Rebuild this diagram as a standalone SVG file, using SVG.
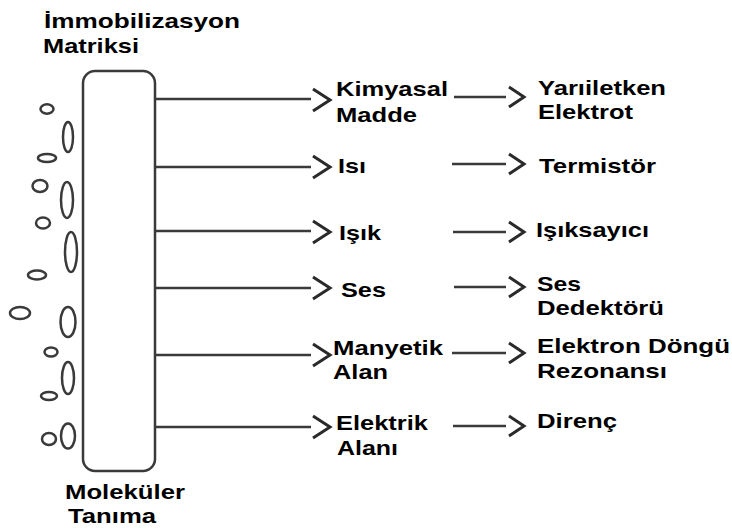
<svg xmlns="http://www.w3.org/2000/svg" width="732" height="529" viewBox="0 0 732 529">
<style>
text{font-family:"Liberation Sans",Arial,sans-serif;font-weight:bold;font-size:21px;fill:#000}
.ln{stroke:#3a3a3a;stroke-width:2.5;fill:none}
.ch{stroke:#2a2a2a;stroke-width:3;fill:none;stroke-linejoin:miter}
.el{stroke:#3a3a3a;stroke-width:2.5;fill:none}
</style>
<rect x="0" y="0" width="732" height="529" fill="#fff"/>
<g id="matrix">
<rect x="83" y="71" width="72" height="400" rx="12" class="el"/>
<text x="44" y="28" textLength="196" lengthAdjust="spacingAndGlyphs">İmmobilizasyon</text>
<text x="43" y="53" textLength="96" lengthAdjust="spacingAndGlyphs">Matriksi</text>
<text x="65" y="499" textLength="120" lengthAdjust="spacingAndGlyphs">Moleküler</text>
<text x="68" y="523" textLength="88" lengthAdjust="spacingAndGlyphs">Tanıma</text>
</g>
<g id="molecules">
<ellipse cx="47" cy="109" rx="6.5" ry="4.7" class="el"/>
<ellipse cx="68" cy="137" rx="5" ry="15" class="el"/>
<ellipse cx="47" cy="158" rx="9" ry="4" class="el"/>
<ellipse cx="40" cy="186" rx="7.5" ry="6" class="el"/>
<ellipse cx="67" cy="200" rx="6" ry="18" class="el"/>
<ellipse cx="43" cy="223" rx="7" ry="5.5" class="el"/>
<ellipse cx="71" cy="252" rx="6" ry="20" class="el"/>
<ellipse cx="37" cy="275" rx="9" ry="4.5" class="el"/>
<ellipse cx="20" cy="313" rx="10" ry="6" class="el"/>
<ellipse cx="68" cy="322" rx="7.5" ry="15" class="el"/>
<ellipse cx="51" cy="352" rx="6.5" ry="4.5" class="el"/>
<ellipse cx="68" cy="378" rx="6" ry="16" class="el"/>
<ellipse cx="49" cy="396" rx="8" ry="4" class="el"/>
<ellipse cx="68" cy="436" rx="7" ry="12.5" class="el"/>
<ellipse cx="49" cy="439" rx="7" ry="6" class="el"/>
</g>
<g id="connectors">
<path class="ln" d="M155 99H311M155 167H311M155 231H311M155 288H311M155 355H311M155 427H311"/>
<path class="ch" d="M313 89L330 100L313 111M313 156L330 167L313 178M313 221L330 232L313 243M313 277L330 288L313 299M313 344L330 355L313 366M313 416L330 427L313 438"/>
<path class="ln" d="M454 97H506M452 164H506M453 232H506M454 287H506M452 353H506M453 426H506"/>
<path class="ch" d="M509 87L524 97L509 107M509 154L524 164L509 174M509 222L524 232L509 242M509 277L524 287L509 297M509 343L524 353L509 363M509 416L524 426L509 436"/>
</g>
<g id="n-kimyasal"><text x="336" y="96" textLength="112" lengthAdjust="spacingAndGlyphs">Kimyasal</text><text x="336" y="122" textLength="81" lengthAdjust="spacingAndGlyphs">Madde</text></g>
<g id="n-isi"><text x="338" y="173" textLength="28" lengthAdjust="spacingAndGlyphs">Isı</text></g>
<g id="n-isik"><text x="339" y="240" textLength="42" lengthAdjust="spacingAndGlyphs">Işık</text></g>
<g id="n-ses"><text x="341" y="297" textLength="45" lengthAdjust="spacingAndGlyphs">Ses</text></g>
<g id="n-manyetik"><text x="333" y="355" textLength="110" lengthAdjust="spacingAndGlyphs">Manyetik</text><text x="333" y="379" textLength="55" lengthAdjust="spacingAndGlyphs">Alan</text></g>
<g id="n-elektrik"><text x="336" y="430" textLength="92" lengthAdjust="spacingAndGlyphs">Elektrik</text><text x="337" y="455" textLength="61" lengthAdjust="spacingAndGlyphs">Alanı</text></g>
<g id="n-yariiletken"><text x="538" y="95" textLength="128" lengthAdjust="spacingAndGlyphs">Yarıiletken</text><text x="538" y="119" textLength="95" lengthAdjust="spacingAndGlyphs">Elektrot</text></g>
<g id="n-termistor"><text x="539" y="173" textLength="117" lengthAdjust="spacingAndGlyphs">Termistör</text></g>
<g id="n-isiksayici"><text x="536" y="237" textLength="113" lengthAdjust="spacingAndGlyphs">Işıksayıcı</text></g>
<g id="n-sesdedektoru"><text x="537" y="291" textLength="44" lengthAdjust="spacingAndGlyphs">Ses</text><text x="537" y="315" textLength="127" lengthAdjust="spacingAndGlyphs">Dedektörü</text></g>
<g id="n-edr"><text x="537" y="353" textLength="193" lengthAdjust="spacingAndGlyphs">Elektron Döngü</text><text x="537" y="378" textLength="130" lengthAdjust="spacingAndGlyphs">Rezonansı</text></g>
<g id="n-direnc"><text x="537" y="428" textLength="80" lengthAdjust="spacingAndGlyphs">Direnç</text></g>
</svg>
